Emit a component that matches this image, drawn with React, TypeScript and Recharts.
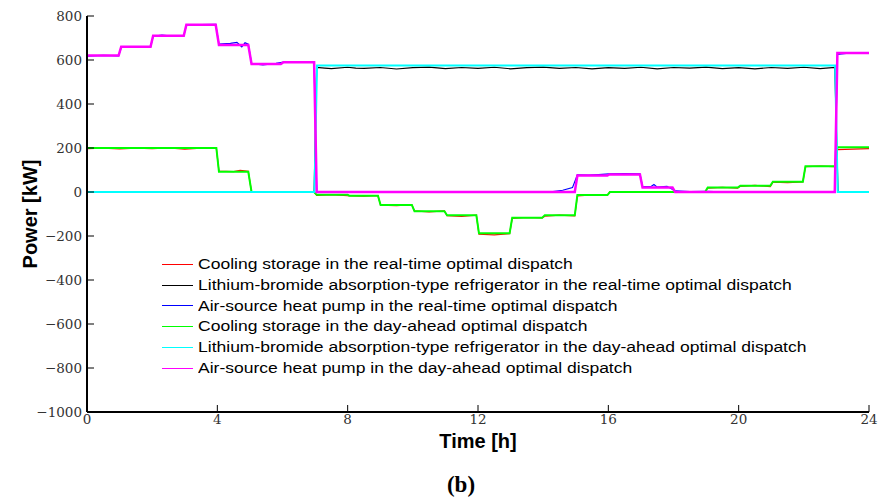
import { LineChart, Line, XAxis, YAxis, Legend, Label } from "recharts";

// time [h] / power [kW] pairs (b)
type Pt = [number, number];

const X_TICKS = [0, 4, 8, 12, 16, 20, 24];
const Y_TICKS = [-1000, -800, -600, -400, -200, 0, 200, 400, 600, 800];

const SERIES_NAMES = [
  "Cooling storage in the real-time optimal dispatch",
  "Lithium-bromide absorption-type refrigerator in the real-time optimal dispatch",
  "Air-source heat pump in the real-time optimal dispatch",
  "Cooling storage in the day-ahead optimal dispatch",
  "Lithium-bromide absorption-type refrigerator in the day-ahead optimal dispatch",
  "Air-source heat pump in the day-ahead optimal dispatch",
];
const SERIES_COLORS = ["#ff0000", "#000000", "#0000ff", "#00ff00", "#00ffff", "#ff00ff"];
const SERIES_WIDTHS = [1.2, 1.2, 1.2, 2, 2, 2.5];

const coolingRT: Pt[] = [
  [0, 197], [0.5, 199], [1, 196], [1.5, 199], [2, 197], [2.5, 200], [3, 195], [3.5, 199], [3.97, 198],
  [4.05, 95], [4.5, 93], [4.7, 98], [4.95, 94], [5.05, 0], [6.97, 0],
  [7.05, -15], [7.5, -12], [8, -17], [8.5, -19], [8.93, -16],
  [9.01, -60], [9.5, -62], [9.97, -58], [10.05, -86], [10.5, -90], [10.97, -86],
  [11.05, -108], [11.5, -111], [11.95, -105], [12.03, -192], [12.5, -195], [12.97, -189],
  [13.05, -120], [13.5, -116], [13.97, -118], [14.05, -110], [14.5, -105], [14.97, -108],
  [15.05, -18], [15.5, -13], [15.97, -15], [16.05, 2], [17, 0], [18, 1], [18.97, 0],
  [19.05, 18], [19.5, 21], [19.97, 17], [20.05, 26], [20.5, 30], [20.97, 25],
  [21.05, 45], [21.5, 43], [21.97, 46], [22.05, 115], [22.5, 118], [22.95, 115],
  [23.03, 193], [23.5, 195], [24, 197],
];

const libRT: Pt[] = [
  [0, 0], [6.97, 0], [7.05, 566], [7.3, 563], [7.5, 561], [8, 567], [8.25, 563], [8.5, 562], [9, 566],
  [9.5, 559], [10, 565], [10.5, 568], [11, 561], [11.5, 566], [12, 562], [12.5, 567],
  [13, 560], [13.5, 565], [14, 568], [14.5, 562], [15, 566], [15.5, 560], [16, 565],
  [16.5, 562], [17, 567], [17.5, 560], [18, 566], [18.5, 563], [19, 568], [19.5, 561],
  [20, 565], [20.5, 560], [21, 566], [21.5, 562], [22, 567], [22.5, 561], [22.95, 566],
  [23.05, 0], [23.5, 2], [24, 1],
];

const heatPumpRT: Pt[] = [
  [0, 618], [0.5, 621], [0.97, 619], [1.05, 658], [1.5, 661], [1.95, 659],
  [2.03, 708], [2.3, 713], [2.6, 709], [2.97, 711], [3.05, 758], [3.5, 761], [3.95, 762],
  [4.05, 672], [4.4, 676], [4.6, 680], [4.75, 660], [4.85, 678], [4.95, 672],
  [5.05, 584], [5.4, 578], [5.6, 581], [5.8, 585], [6.03, 591], [6.97, 589],
  [7.05, 2], [14.3, 2], [14.6, 8], [14.9, 20], [15.05, 78], [15.4, 77], [15.7, 79],
  [16.03, 82], [16.5, 84], [16.97, 82], [17.05, 25], [17.3, 24], [17.4, 34], [17.5, 22],
  [17.8, 26], [18.05, 5], [18.5, 2], [19, 3], [19.5, 1], [22.95, 0],
  [23.03, 625], [23.3, 630], [24, 633],
];

const coolingDA: Pt[] = [
  [0, 200], [3.97, 200], [4.05, 92], [4.95, 92], [5.05, 0], [6.97, 0],
  [7.05, -13], [8, -13], [8.05, -17], [8.93, -17], [9.01, -59], [9.97, -59],
  [10.05, -87], [10.97, -87], [11.05, -106], [11.95, -106], [12.03, -188], [12.97, -188],
  [13.05, -117], [13.97, -117], [14.05, -106], [14.97, -106], [15.05, -14], [15.97, -14],
  [16.05, 0], [18.97, 0], [19.05, 20], [19.97, 20], [20.05, 28], [20.97, 28],
  [21.05, 47], [21.97, 47], [22.05, 117], [22.95, 117], [23.03, 203], [24, 203],
];

const libDA: Pt[] = [
  [0, 0], [6.98, 0], [7.06, 575], [22.96, 575], [23.04, 0], [24, 0],
];

const heatPumpDA: Pt[] = [
  [0, 620], [0.97, 620], [1.05, 660], [1.95, 660], [2.03, 710], [2.97, 710],
  [3.05, 760], [3.95, 760], [4.05, 668], [4.95, 668], [5.05, 582], [5.95, 582],
  [6.03, 590], [6.97, 590], [7.05, 0], [14.97, 0], [15.05, 75], [15.97, 75],
  [16.03, 80], [16.97, 80], [17.05, 20], [17.97, 20], [18.05, 0], [22.95, 0],
  [23.03, 632], [24, 632],
];

const SERIES = [coolingRT, libRT, heatPumpRT, coolingDA, libDA, heatPumpDA];

const toRows = (pts: Pt[]) => pts.map(([t, v]) => ({ t, v }));
const fmtY = (v: number) => (v < 0 ? `\u2212${-v}` : `${v}`);

const TICK_FONT = "DejaVu Serif";
const TITLE_STYLE = { fontFamily: "Liberation Sans", fontSize: 20, fontWeight: 700, fill: "#000" };

// custom ticks so the serif face actually sticks
function XTick(props: any) {
  const { x, y, payload } = props;
  return (
    <text x={x} y={y} dy="0.71em" textAnchor="middle" fontFamily={TICK_FONT} fontSize={13.5} fill="#333">
      {payload.value}
    </text>
  );
}

function YTick(props: any) {
  const { x, y, payload } = props;
  return (
    <text x={x} y={y} dy="0.355em" textAnchor="end" fontFamily={TICK_FONT} fontSize={13.5} fill="#333">
      {fmtY(payload.value)}
    </text>
  );
}

function LegendBox() {
  return (
    <div style={{ fontFamily: "Liberation Sans", fontSize: 15.5, color: "#000", lineHeight: "20.8px" }}>
      {SERIES_NAMES.map((name, i) => (
        <div key={name} style={{ display: "flex", alignItems: "center", whiteSpace: "nowrap" }}>
          <span style={{ display: "inline-block", width: 31, height: 0, borderTop: `1.5px solid ${SERIES_COLORS[i]}`, marginRight: 5 }} />
          <span style={{ display: "inline-block", transform: "scaleX(1.13)", transformOrigin: "left center" }}>{name}</span>
        </div>
      ))}
    </div>
  );
}

export default function App() {
  return (
    <div style={{ position: "absolute", left: 0, top: 0, background: "#fff" }}>
      <LineChart width={878} height={497} margin={{ top: 16, right: 9, bottom: 45, left: 27 }}>
        <XAxis
          type="number"
          dataKey="t"
          domain={[0, 24]}
          ticks={X_TICKS}
          height={40}
          tickSize={-7}
          tickMargin={9}
          tick={<XTick />}
          axisLine={{ stroke: "#000", strokeWidth: 2 }}
          tickLine={{ stroke: "#000" }}
        >
          <Label value="Time [h]" position="center" dy={9} style={TITLE_STYLE} />
          <Label
            value="(b)"
            position="center"
            dx={-17}
            dy={52}
            style={{ fontFamily: "Liberation Serif", fontSize: 23, fontWeight: 700, fill: "#000" }}
          />
        </XAxis>
        <XAxis
          xAxisId="top"
          orientation="top"
          type="number"
          domain={[0, 24]}
          ticks={X_TICKS}
          height={0}
          tickSize={-7}
          tick={false}
          axisLine={{ stroke: "#000", strokeWidth: 1.5 }}
          tickLine={{ stroke: "#000" }}
        />
        <YAxis
          type="number"
          domain={[-1000, 800]}
          ticks={Y_TICKS}
          width={60}
          tickSize={-7}
          tickMargin={12}
          tick={<YTick />}
          axisLine={{ stroke: "#000", strokeWidth: 2 }}
          tickLine={{ stroke: "#000" }}
        >
          <Label value="Power [kW]" angle={-90} position="center" dx={-27} style={TITLE_STYLE} />
        </YAxis>
        <YAxis
          yAxisId="r"
          orientation="right"
          type="number"
          domain={[-1000, 800]}
          ticks={Y_TICKS}
          width={0}
          tickSize={-7}
          tick={false}
          axisLine={{ stroke: "#000", strokeWidth: 1.5 }}
          tickLine={{ stroke: "#000" }}
        />
        {SERIES.map((pts, i) => (
          <Line
            key={SERIES_NAMES[i]}
            data={toRows(pts)}
            dataKey="v"
            name={SERIES_NAMES[i]}
            type="linear"
            stroke={SERIES_COLORS[i]}
            strokeWidth={SERIES_WIDTHS[i]}
            dot={false}
            activeDot={false}
            isAnimationActive={false}
          />
        ))}
        <Legend
          layout="vertical"
          align="center"
          verticalAlign="middle"
          content={() => <LegendBox />}
          wrapperStyle={{ left: 162, top: 254, width: "auto" }}
        />
      </LineChart>
    </div>
  );
}
